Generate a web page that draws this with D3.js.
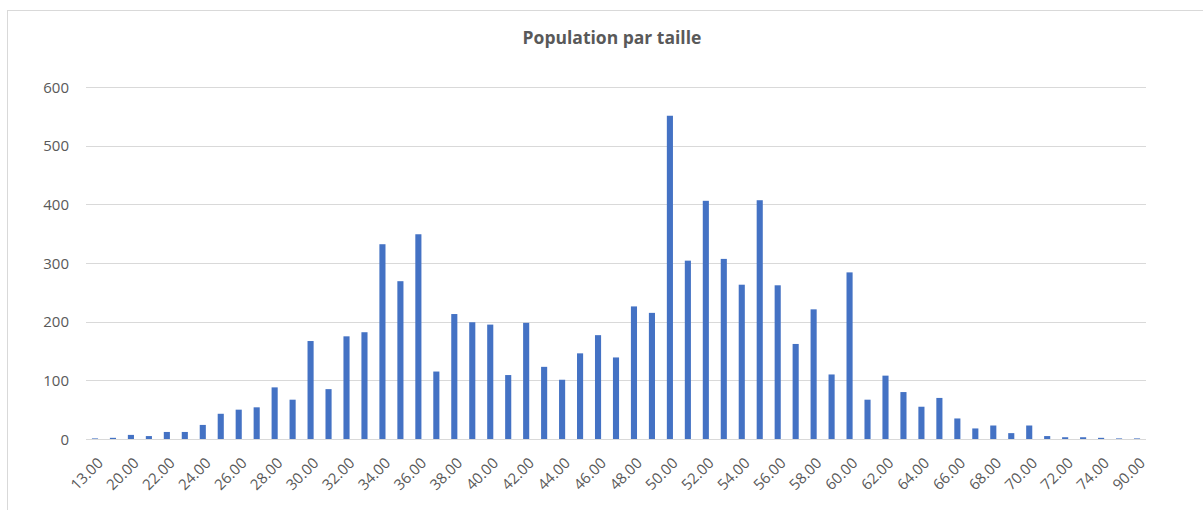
<!DOCTYPE html>
<html>
<head>
<meta charset="utf-8">
<script src="https://cdn.jsdelivr.net/npm/d3@7"></script>
<style>
  body { margin: 0; background: #fff; }
  #stage { width: 1203px; height: 510px; }
</style>
</head>
<body>
<div id="stage"></div>
<script>
const tailles = [13, 19, 20, 21, 22, 23, 24, 25, 26, 27, 28, 29, 30, 31, 32, 33, 34, 35, 36, 37,
  38, 39, 40, 41, 42, 43, 44, 45, 46, 47, 48, 49, 50, 51, 52, 53, 54, 55, 56, 57,
  58, 59, 60, 61, 62, 63, 64, 65, 66, 67, 68, 69, 70, 71, 72, 73, 74, 75, 90];

const population = [1, 2, 7, 5, 12, 12, 24, 43, 50, 54, 88, 67, 167, 85, 175, 182, 332, 269, 349, 115,
  213, 199, 195, 109, 198, 123, 101, 146, 177, 139, 226, 215, 551, 304, 406, 307, 263, 407, 262, 162,
  221, 110, 284, 67, 108, 80, 55, 70, 35, 18, 23, 10, 23, 5, 3, 3, 2, 1, 1];

const yTicks = [0, 100, 200, 300, 400, 500, 600];

const stage = d3.select("#stage");
const width = 1203;
const height = 510;

const svg = stage
  .append("svg")
  .attr("width", width)
  .attr("height", height)
  .attr("viewBox", `0 0 ${width} ${height}`);

// cadre du graphique
svg
  .append("rect")
  .attr("x", 7.5)
  .attr("y", 10.5)
  .attr("width", width + 10)
  .attr("height", height + 10)
  .attr("fill", "#fff")
  .attr("stroke", "#d9d9d9");

const plotLeft = 86;
const plotRight = 1146;
const plotTop = 87;
const plotBottom = 439;

const x = d3
  .scaleBand()
  .domain(tailles.map((d) => d.toFixed(2)))
  .range([plotLeft, plotRight])
  .paddingInner(0.66)
  .paddingOuter(0.33);

const y = d3.scaleLinear().domain([0, 600]).range([plotBottom, plotTop]);

// grille
svg
  .append("g")
  .selectAll("line")
  .data(yTicks)
  .join("line")
  .attr("x1", plotLeft)
  .attr("x2", plotRight)
  .attr("y1", (d) => Math.round(y(d)) + 0.5)
  .attr("y2", (d) => Math.round(y(d)) + 0.5)
  .attr("stroke", "#d9d9d9")
  .attr("stroke-width", 1);

// axe y
svg
  .append("g")
  .selectAll("text")
  .data(yTicks)
  .join("text")
  .attr("x", 69)
  .attr("y", (d) => y(d) + 5.5)
  .attr("text-anchor", "end")
  .attr("font-family", "Open Sans, sans-serif")
  .attr("font-size", "15px")
  .attr("fill", "#595959")
  .text((d) => d);

// barres
svg
  .append("g")
  .selectAll("rect")
  .data(tailles)
  .join("rect")
  .attr("x", (d) => x(d.toFixed(2)))
  .attr("width", x.bandwidth())
  .attr("y", (d, i) => y(population[i]))
  .attr("height", (d, i) => plotBottom - y(population[i]))
  .attr("fill", "#4472c4");

// axe x : une étiquette sur deux
const xAxis = d3
  .axisBottom(x)
  .tickValues(x.domain().filter((d, i) => i % 2 === 0 || i === tailles.length - 1))
  .tickSize(0);

const gx = svg
  .append("g")
  .attr("transform", `translate(0,${plotBottom})`)
  .call(xAxis);

gx.select(".domain").remove();

gx.selectAll("text")
  .attr("font-family", "Open Sans, sans-serif")
  .attr("font-size", "15px")
  .attr("fill", "#595959")
  .attr("text-anchor", "end")
  .attr("dy", null)
  .attr("y", 0)
  .attr("transform", "translate(9,25) rotate(-45)");

// titre
svg
  .append("text")
  .attr("x", 612)
  .attr("y", 44)
  .attr("text-anchor", "middle")
  .attr("font-family", "Open Sans, sans-serif")
  .attr("font-weight", "bold")
  .attr("font-size", "17.5px")
  .attr("fill", "#595959")
  .text("Population par taille");
</script>
</body>
</html>
